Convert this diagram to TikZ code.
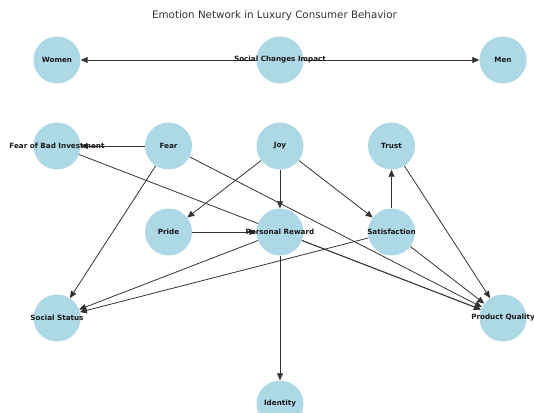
\documentclass[tikz,border=0pt]{standalone}
\usepackage{fontspec}
\setmainfont{DejaVu Sans}
\usetikzlibrary{arrows.meta}
\definecolor{nodeblue}{HTML}{ADD8E6}
\definecolor{titlegray}{HTML}{333333}
\pgfdeclarelayer{edges}
\pgfsetlayers{edges,main}

\begin{document}
\begin{tikzpicture}[x=1pt,y=-1pt,
        emo/.style={circle,fill=nodeblue,minimum size=47pt,inner sep=0pt},
        lbl/.style={inner sep=0pt,font=\fontsize{7.2}{8}\selectfont\bfseries,text=black!90},
        link/.style={-{Triangle[length=7pt,width=6pt]},draw=black!80,line width=0.8pt}]
        \useasboundingbox (0,0) rectangle (534,412);
        \node[font=\fontsize{10.3}{12}\selectfont,text=titlegray] (title) at (274.5,16) {Emotion Network in Luxury Consumer Behavior};

        \node[emo,label={[lbl]center:Women}] (women) at (57,60) {};
        \node[emo,label={[lbl]center:Social Changes Impact}] (sci) at (280,60) {};
        \node[emo,label={[lbl]center:Men}] (men) at (503,60) {};
        \node[emo,label={[lbl]center:Fear of Bad Investment}] (fobi) at (57,146) {};
        \node[emo,label={[lbl]center:Fear}] (fear) at (168.5,146) {};
        \node[emo,label={[lbl]center:Joy}] (joy) at (280,146) {};
        \node[emo,label={[lbl]center:Trust}] (trust) at (391.5,146) {};
        \node[emo,label={[lbl]center:Pride}] (pride) at (168.5,232) {};
        \node[emo,label={[lbl]center:Personal Reward}] (reward) at (280,232) {};
        \node[emo,label={[lbl]center:Satisfaction}] (satis) at (391.5,232) {};
        \node[emo,label={[lbl]center:Social Status}] (status) at (57,318) {};
        \node[emo,label={[lbl]center:Product Quality}] (quality) at (503,318) {};
        \node[emo,label={[lbl]center:Identity}] (identity) at (280,404) {};

        \begin{pgfonlayer}{edges}
        \draw[link] (sci) -- (women);
        \draw[link] (sci) -- (men);
        \draw[link] (fear) -- (fobi);
        \draw[link] (fear) -- (status);
        \draw[link] (fear) -- (quality);
        \draw[link] (fobi) -- (quality);
        \draw[link] (joy) -- (pride);
        \draw[link] (joy) -- (reward);
        \draw[link] (joy) -- (satis);
        \draw[link] (pride) -- (reward);
        \draw[link] (reward) -- (status);
        \draw[link] (reward) -- (identity);
        \draw[link] (reward) -- (quality);
        \draw[link] (satis) -- (trust);
        \draw[link] (satis) -- (status);
        \draw[link] (satis) -- (quality);
        \draw[link] (trust) -- (quality);
        \end{pgfonlayer}
\end{tikzpicture}
\end{document}
